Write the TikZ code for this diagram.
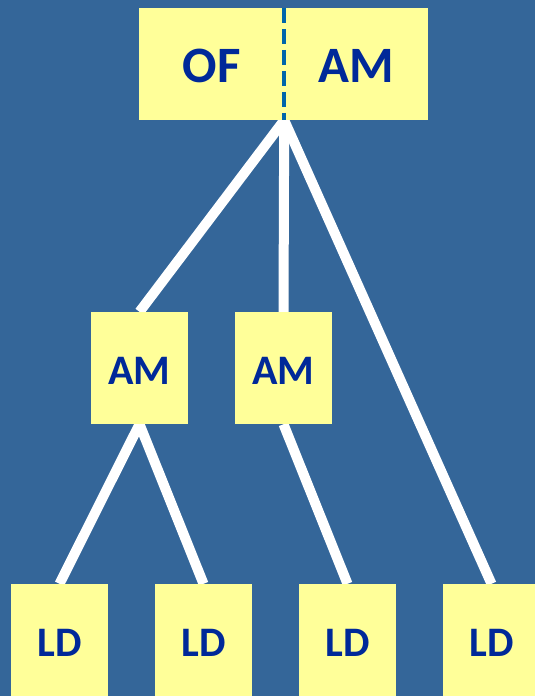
\documentclass[tikz,border=0pt]{standalone}
\usepackage{fontspec}
\setmainfont{Carlito}
\usepackage{tikz}
\usetikzlibrary{calc,positioning}
\definecolor{bgblue}{RGB}{52,102,153}
\definecolor{boxyellow}{RGB}{255,255,153}
\definecolor{txtblue}{RGB}{0,41,153}
\definecolor{dashblue}{RGB}{0,102,170}
\pgfdeclarelayer{back}
\pgfdeclarelayer{lines}
\pgfsetlayers{back,lines,main}

\begin{document}
\begin{tikzpicture}[x=1pt,y=-1pt,
  box/.style={rectangle,fill=boxyellow,inner sep=0pt,minimum width=97pt,minimum height=112pt,
    text height=32pt,text depth=0pt,text=txtblue,font=\fontsize{42}{42}\selectfont\bfseries},
  topbox/.style={box,minimum width=145pt,text height=37pt,font=\fontsize{51}{51}\selectfont\bfseries},
  link/.style={white,line width=10pt}]
\useasboundingbox (0,0) rectangle (535,696);
\begin{pgfonlayer}{back}
\fill[bgblue] (0,0) rectangle (535,696);
\end{pgfonlayer}
\node[topbox] (of) at (211.5,64) {OF};
\node[topbox,minimum width=144pt,right=0pt of of] (am) {AM};
\draw[dashblue,line width=4.5pt,dash pattern=on 15pt off 6pt] (of.north east) -- (of.south east);
\node[box] (am1) at (139.5,368) {AM};
\node[box] (am2) at (283.5,368) {AM};
\node[box] (ld1) at (59.5,640) {LD};
\node[box] (ld2) at (203.5,640) {LD};
\node[box] (ld3) at (347.5,640) {LD};
\node[box] (ld4) at (491.5,640) {LD};
\begin{pgfonlayer}{lines}
\draw[link] (of.south east) -- (am1.north);
\draw[link] (of.south east) -- (am2.north);
\draw[link] (of.south east) -- (ld4.north);
\draw[link] (am1.south) -- (ld1.north);
\draw[link] (am1.south) -- (ld2.north);
\draw[link] (am2.south) -- (ld3.north);
\end{pgfonlayer}
\end{tikzpicture}
\end{document}
